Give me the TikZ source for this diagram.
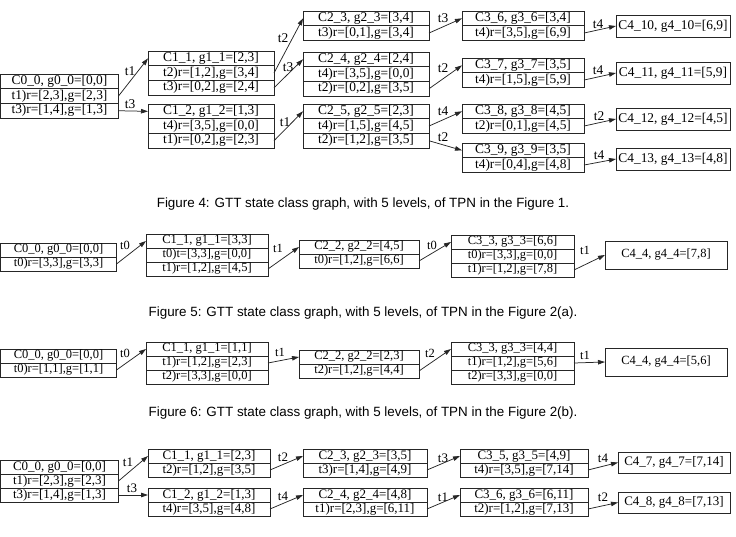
\documentclass[tikz,border=0pt]{standalone}
\usepackage{fontspec}
\setmainfont{Liberation Serif}
\newfontfamily\capfont{Liberation Sans}
\usetikzlibrary{arrows.meta}
\tikzset{
 cell/.style={draw=black!85, line width=0.75pt, inner sep=0pt, outer sep=0pt, anchor=north west},
 fa/.style={font=\fontsize{13.4}{14}\selectfont, minimum height=14.7pt},
 fb/.style={font=\fontsize{12.5}{13}\selectfont, minimum height=14pt},
 fc/.style={font=\fontsize{13}{14}\selectfont, minimum height=14pt},
 arr/.style={draw=black!85, line width=0.75pt, -{Triangle[length=7pt,width=4.5pt]}},
 lbl/.style={inner sep=0pt},
 captext/.style={font=\capfont\fontsize{13.4}{15}\selectfont, inner sep=0pt}
}
\begin{document}
\begin{tikzpicture}[x=1pt,y=-1pt]
\useasboundingbox (0,0) rectangle (736,537);
% ---------------- Figure 4 ----------------
\begin{scope}[every node/.append style={fa}]
\node[cell,minimum width=118pt] (a0) at (0.5,74) {C0\_0, g0\_0=[0,0]};
\node[cell,minimum width=118pt] (a1) at (a0.south west) {t1)r=[2,3],g=[2,3]};
\node[cell,minimum width=118pt] (a2) at (a1.south west) {t3)r=[1,4],g=[1,3]};
\node[cell,minimum width=126pt] (b0) at (148,51) {C1\_1, g1\_1=[2,3]};
\node[cell,minimum width=126pt] (b1) at (b0.south west) {t2)r=[1,2],g=[3,4]};
\node[cell,minimum width=126pt] (b2) at (b1.south west) {t3)r=[0,2],g=[2,4]};
\node[cell,minimum width=126pt] (c0) at (148,104) {C1\_2, g1\_2=[1,3]};
\node[cell,minimum width=126pt] (c1) at (c0.south west) {t4)r=[3,5],g=[0,0]};
\node[cell,minimum width=126pt] (c2) at (c1.south west) {t1)r=[0,2],g=[2,3]};
\node[cell,minimum width=126pt] (d0) at (303,11) {C2\_3, g2\_3=[3,4]};
\node[cell,minimum width=126pt] (d1) at (d0.south west) {t3)r=[0,1],g=[3,4]};
\node[cell,minimum width=126pt] (e0) at (303,52) {C2\_4, g2\_4=[2,4]};
\node[cell,minimum width=126pt] (e1) at (e0.south west) {t4)r=[3,5],g=[0,0]};
\node[cell,minimum width=126pt] (e2) at (e1.south west) {t2)r=[0,2],g=[3,5]};
\node[cell,minimum width=126pt] (f0) at (303,104) {C2\_5, g2\_5=[2,3]};
\node[cell,minimum width=126pt] (f1) at (f0.south west) {t4)r=[1,5],g=[4,5]};
\node[cell,minimum width=126pt] (f2) at (f1.south west) {t2)r=[1,2],g=[3,5]};
\node[cell,minimum width=122pt] (g0) at (462,11) {C3\_6, g3\_6=[3,4]};
\node[cell,minimum width=122pt] (g1) at (g0.south west) {t4)r=[3,5],g=[6,9]};
\node[cell,minimum width=122pt] (h0) at (462,58) {C3\_7, g3\_7=[3,5]};
\node[cell,minimum width=122pt] (h1) at (h0.south west) {t4)r=[1,5],g=[5,9]};
\node[cell,minimum width=122pt] (i0) at (462,104) {C3\_8, g3\_8=[4,5]};
\node[cell,minimum width=122pt] (i1) at (i0.south west) {t2)r=[0,1],g=[4,5]};
\node[cell,minimum width=122pt] (j0) at (462,143) {C3\_9, g3\_9=[3,5]};
\node[cell,minimum width=122pt] (j1) at (j0.south west) {t4)r=[0,4],g=[4,8]};
\node[cell,minimum width=114pt,minimum height=22pt] (k) at (616,15) {C4\_10, g4\_10=[6,9]};
\node[cell,minimum width=114pt,minimum height=22pt] (l) at (616,62) {C4\_11, g4\_11=[5,9]};
\node[cell,minimum width=114pt,minimum height=22pt] (m) at (616,108) {C4\_12, g4\_12=[4,5]};
\node[cell,minimum width=114pt,minimum height=22pt] (n) at (616,148) {C4\_13, g4\_13=[4,8]};
\draw[arr] (a1.east) -- (b0.west); \node[lbl] (la1) at (130,71) {t1};
\draw[arr] (a2.east) -- (c0.west); \node[lbl] (la2) at (130,104) {t3};
\draw[arr] (b1.east) -- (d0.west); \node[lbl] (lb1) at (283,38) {t2};
\draw[arr] (b2.east) -- (e0.west); \node[lbl] (lb2) at (288,67) {t3};
\draw[arr] (c2.east) -- (f0.west); \node[lbl] (lc2) at (285,122) {t1};
\draw[arr] (d1.east) -- (g0.west); \node[lbl] (ld1) at (443,18) {t3};
\draw[arr] (e2.east) -- (h0.west); \node[lbl] (le2) at (443,68) {t2};
\draw[arr] (f1.east) -- (i0.west); \node[lbl] (lf1) at (443,111) {t4};
\draw[arr] (f2.east) -- (j0.west); \node[lbl] (lf2) at (443,137) {t2};
\draw[arr] (g1.east) -- (k.west); \node[lbl] (lg1) at (598,24) {t4};
\draw[arr] (h1.east) -- (l.west); \node[lbl] (lh1) at (598,70) {t4};
\draw[arr] (i1.east) -- (m.west); \node[lbl] (li1) at (599,116) {t2};
\draw[arr] (j1.east) -- (n.west); \node[lbl] (lj1) at (599,155) {t4};
\end{scope}
\node[captext] (cap4) at (363,204) {Figure 4: GTT state class graph, with 5 levels, of TPN in the Figure 1.};
% ---------------- Figure 5 ----------------
\begin{scope}[every node/.append style={fb}]
\node[cell,minimum width=116pt] (p0) at (0.5,243) {C0\_0, g0\_0=[0,0]};
\node[cell,minimum width=116pt] (p1) at (p0.south west) {t0)r=[3,3],g=[3,3]};
\node[cell,minimum width=122pt] (q0) at (146,234) {C1\_1, g1\_1=[3,3]};
\node[cell,minimum width=122pt] (q1) at (q0.south west) {t0)t=[3,3],g=[0,0]};
\node[cell,minimum width=122pt] (q2) at (q1.south west) {t1)r=[1,2],g=[4,5]};
\node[cell,minimum width=120pt] (r0) at (299,240) {C2\_2, g2\_2=[4,5]};
\node[cell,minimum width=120pt] (r1) at (r0.south west) {t0)r=[1,2],g=[6,6]};
\node[cell,minimum width=123pt] (s0) at (451,235) {C3\_3, g3\_3=[6,6]};
\node[cell,minimum width=123pt] (s1) at (s0.south west) {t0)r=[3,3],g=[0,0]};
\node[cell,minimum width=123pt] (s2) at (s1.south west) {t1)r=[1,2],g=[7,8]};
\node[cell,minimum width=122pt,minimum height=28pt] (t) at (605,241) {C4\_4, g4\_4=[7,8]};
\draw[arr] (p1.east) -- (q0.west); \node[lbl] (lp1) at (125,245) {t0};
\draw[arr] (q2.east) -- (r0.west); \node[lbl] (lq2) at (278,248) {t1};
\draw[arr] (r1.east) -- (s0.west); \node[lbl] (lr1) at (432,245) {t0};
\draw[arr] (s2.east) -- (t.west); \node[lbl] (ls2) at (585,250) {t1};
\end{scope}
\node[captext] (cap5) at (363,313) {Figure 5: GTT state class graph, with 5 levels, of TPN in the Figure 2(a).};
% ---------------- Figure 6 ----------------
\begin{scope}[every node/.append style={fb}]
\node[cell,minimum width=116pt] (u0) at (0.5,349) {C0\_0, g0\_0=[0,0]};
\node[cell,minimum width=116pt] (u1) at (u0.south west) {t0)r=[1,1],g=[1,1]};
\node[cell,minimum width=122pt] (v0) at (146,342) {C1\_1, g1\_1=[1,1]};
\node[cell,minimum width=122pt] (v1) at (v0.south west) {t1)r=[1,2],g=[2,3]};
\node[cell,minimum width=122pt] (v2) at (v1.south west) {t2)r=[3,3],g=[0,0]};
\node[cell,minimum width=120pt] (w0) at (299,350) {C2\_2, g2\_2=[2,3]};
\node[cell,minimum width=120pt] (w1) at (w0.south west) {t2)r=[1,2],g=[4,4]};
\node[cell,minimum width=123pt] (x0) at (451,342) {C3\_3, g3\_3=[4,4]};
\node[cell,minimum width=123pt] (x1) at (x0.south west) {t1)r=[1,2],g=[5,6]};
\node[cell,minimum width=123pt] (x2) at (x1.south west) {t2)r=[3,3],g=[0,0]};
\node[cell,minimum width=122pt,minimum height=28pt] (y) at (605,348) {C4\_4, g4\_4=[5,6]};
\draw[arr] (u1.east) -- (v0.west); \node[lbl] (lu1) at (125,353) {t0};
\draw[arr] (v1.east) -- (w0.west); \node[lbl] (lv1) at (280,352) {t1};
\draw[arr] (w1.east) -- (x0.west); \node[lbl] (lw1) at (430,353) {t2};
\draw[arr] (x1.east) -- (y.west); \node[lbl] (lx1) at (585,355) {t1};
\end{scope}
\node[captext] (cap6) at (363,413) {Figure 6: GTT state class graph, with 5 levels, of TPN in the Figure 2(b).};
% ---------------- Figure 7 ----------------
\begin{scope}[every node/.append style={fc}]
\node[cell,minimum width=118pt] (z0) at (0.5,460) {C0\_0, g0\_0=[0,0]};
\node[cell,minimum width=118pt] (z1) at (z0.south west) {t1)r=[2,3],g=[2,3]};
\node[cell,minimum width=118pt] (z2) at (z1.south west) {t3)r=[1,4],g=[1,3]};
\node[cell,minimum width=122pt] (aa0) at (148,449) {C1\_1, g1\_1=[2,3]};
\node[cell,minimum width=122pt] (aa1) at (aa0.south west) {t2)r=[1,2],g=[3,5]};
\node[cell,minimum width=122pt] (ab0) at (148,488) {C1\_2, g1\_2=[1,3]};
\node[cell,minimum width=122pt] (ab1) at (ab0.south west) {t4)r=[3,5],g=[4,8]};
\node[cell,minimum width=124pt] (ac0) at (303,449) {C2\_3, g2\_3=[3,5]};
\node[cell,minimum width=124pt] (ac1) at (ac0.south west) {t3)r=[1,4],g=[4,9]};
\node[cell,minimum width=124pt] (ad0) at (303,488) {C2\_4, g2\_4=[4,8]};
\node[cell,minimum width=124pt] (ad1) at (ad0.south west) {t1)r=[2,3],g=[6,11]};
\node[cell,minimum width=128pt] (ae0) at (460,449) {C3\_5, g3\_5=[4,9]};
\node[cell,minimum width=128pt] (ae1) at (ae0.south west) {t4)r=[3,5],g=[7,14]};
\node[cell,minimum width=128pt] (af0) at (460,488) {C3\_6, g3\_6=[6,11]};
\node[cell,minimum width=128pt] (af1) at (af0.south west) {t2)r=[1,2],g=[7,13]};
\node[cell,minimum width=112pt,minimum height=21pt] (ag) at (618,452) {C4\_7, g4\_7=[7,14]};
\node[cell,minimum width=112pt,minimum height=21pt] (ah) at (618,492) {C4\_8, g4\_8=[7,13]};
\draw[arr] (z1.east) -- (aa0.west); \node[lbl] (lz1) at (128,462) {t1};
\draw[arr] (z2.east) -- (ab0.west); \node[lbl] (lz2) at (132,488) {t3};
\draw[arr] (aa1.east) -- (ac0.west); \node[lbl] (laa1) at (283,457) {t2};
\draw[arr] (ab1.east) -- (ad0.west); \node[lbl] (lab1) at (283,496) {t4};
\draw[arr] (ac1.east) -- (ae0.west); \node[lbl] (lac1) at (443,458) {t3};
\draw[arr] (ad1.east) -- (af0.west); \node[lbl] (lad1) at (443,497) {t1};
\draw[arr] (ae1.east) -- (ag.west); \node[lbl] (lae1) at (603,458) {t4};
\draw[arr] (af1.east) -- (ah.west); \node[lbl] (laf1) at (603,497) {t2};
\end{scope}
\end{tikzpicture}
\end{document}
